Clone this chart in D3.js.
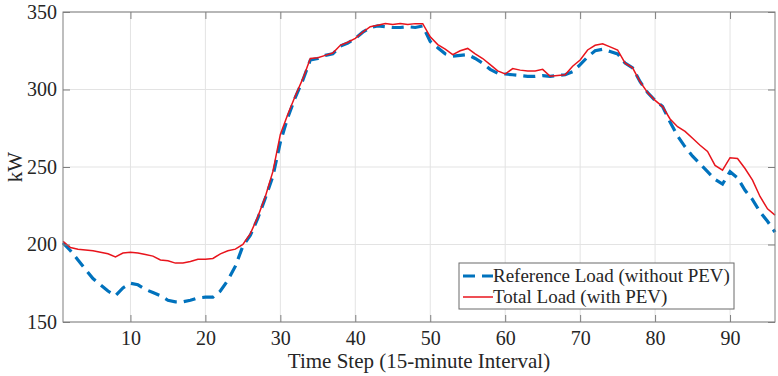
<!DOCTYPE html>
<html>
<head>
<meta charset="utf-8">
<script src="https://cdn.jsdelivr.net/npm/d3@7"></script>
<style>
  body { margin: 0; background: #fff; }
  text { font-family: "Liberation Serif", "Times New Roman", serif; fill: #262626; }
</style>
</head>
<body>
<div id="chart"></div>
<script>
// time steps 1..96
var steps = d3.range(1, 97);

var referenceLoad = [
  201, 196, 190, 184, 178, 174, 170, 167, 172, 175,
  174, 171, 169, 167, 164, 163, 163, 164, 165.5, 166,
  166, 170, 177, 186, 199, 206, 217, 230, 244, 266,
  282, 295, 306, 319, 320, 322, 323, 328, 330, 333,
  337, 340, 341, 340.5, 340, 340, 340.5, 340, 341, 331,
  327, 323, 321.5, 322, 322.5, 320, 317, 313, 310.5, 310,
  309.5, 309, 308.5, 308.5, 309, 308.5, 309, 309.5, 311.5, 316,
  321, 325, 326, 324.5, 323, 317, 314, 305, 298, 293,
  289, 279, 270, 263, 257, 252, 247, 242, 239, 247,
  243, 235, 229, 221, 215, 208
];

var totalLoad = [
  202, 198, 197, 196.5, 196, 195, 194, 192, 194.5, 195,
  194.5, 193.5, 192.5, 190, 189.5, 188, 188, 189, 190.5, 190.5,
  191, 194, 196, 197, 200, 207, 218, 231, 247, 271,
  284, 296, 307, 320, 320.5, 322, 323.5, 328.5, 330.5, 333,
  337, 340.5, 341.5, 342.5, 342, 342.5, 342, 342.5, 342.5, 334,
  329, 326, 322.5, 325, 326.5, 323, 320, 316, 312, 310,
  313.5, 312.5, 312, 312, 313, 308.5, 309, 309.5, 315, 319,
  325.5, 328.5, 329.5, 327.5, 325.5, 317, 314, 305, 298, 293,
  289, 281, 276, 273, 268.5, 264, 260, 251, 248, 256,
  255.5, 249, 241.5, 231, 223, 219
];

var xTicks = [10, 20, 30, 40, 50, 60, 70, 80, 90];
var yTicks = [150, 200, 250, 300, 350];
var seriesNames = ["Reference Load (without PEV)", "Total Load (with PEV)"];

var width = 778, height = 376;
var margin = { top: 12, right: 3, bottom: 54, left: 63 };
var w = width - margin.left - margin.right,
    h = height - margin.top - margin.bottom;

var svg = d3.select("#chart").append("svg")
    .attr("width", width)
    .attr("height", height);

var g = svg.append("g")
    .attr("transform", "translate(" + margin.left + "," + margin.top + ")");

var x = d3.scaleLinear().domain([1, 96]).range([0, w]);
var y = d3.scaleLinear().domain([150, 350]).range([h, 0]);

// grid
g.append("g").selectAll("line.gx")
  .data(xTicks).enter().append("line")
    .attr("x1", function(d) { return x(d); })
    .attr("x2", function(d) { return x(d); })
    .attr("y1", 0).attr("y2", h)
    .attr("stroke", "#e3e3e3").attr("stroke-width", 1);

g.append("g").selectAll("line.gy")
  .data(yTicks).enter().append("line")
    .attr("y1", function(d) { return y(d); })
    .attr("y2", function(d) { return y(d); })
    .attr("x1", 0).attr("x2", w)
    .attr("stroke", "#e3e3e3").attr("stroke-width", 1);

// lines
var line = function(vals) {
  return d3.line()
    .x(function(d, i) { return x(steps[i]); })
    .y(function(d) { return y(d); })(vals);
};

g.append("path")
    .attr("d", line(referenceLoad))
    .attr("fill", "none")
    .attr("stroke", "#0072BD")
    .attr("stroke-width", 3.2)
    .attr("stroke-dasharray", "12,7");

g.append("path")
    .attr("d", line(totalLoad))
    .attr("fill", "none")
    .attr("stroke", "#e8141c")
    .attr("stroke-width", 1.5);

// axes (MATLAB style box with inward ticks)
var tickLen = 7;
var axisColor = "#7f7f7f";

function styleAxis(a) {
  a.attr("font-family", null).attr("font-size", null);
  a.select(".domain").remove();
  a.selectAll(".tick line").attr("stroke", axisColor);
  a.selectAll(".tick text")
      .style("font-family", "Liberation Serif")
      .style("font-size", "20px")
      .style("fill", "#262626");
}

g.append("g")
    .attr("transform", "translate(0," + h + ")")
    .call(d3.axisBottom(x).tickValues(xTicks).tickSizeInner(-tickLen).tickSizeOuter(0).tickPadding(9))
    .call(styleAxis);

g.append("g")
    .call(d3.axisTop(x).tickValues(xTicks).tickSizeInner(-tickLen).tickSizeOuter(0).tickFormat(""))
    .call(styleAxis);

g.append("g")
    .call(d3.axisLeft(y).tickValues(yTicks).tickSizeInner(-tickLen).tickSizeOuter(0).tickPadding(6))
    .call(styleAxis);

g.append("g")
    .attr("transform", "translate(" + w + ",0)")
    .call(d3.axisRight(y).tickValues(yTicks).tickSizeInner(-tickLen).tickSizeOuter(0).tickFormat(""))
    .call(styleAxis);

g.append("rect")
    .attr("x", 0).attr("y", 0).attr("width", w).attr("height", h)
    .attr("fill", "none").attr("stroke", axisColor).attr("stroke-width", 1);

// axis labels
svg.append("text")
    .attr("x", margin.left + w / 2)
    .attr("y", 368)
    .attr("text-anchor", "middle")
    .style("font-size", "21px")
    .text("Time Step (15-minute Interval)");

svg.append("text")
    .attr("transform", "translate(22," + (margin.top + h / 2) + ") rotate(-90)")
    .attr("text-anchor", "middle")
    .style("font-size", "21px")
    .text("kW");

// legend
var legend = svg.append("g").attr("transform", "translate(459,263)");
legend.append("rect")
    .attr("width", 275).attr("height", 46)
    .attr("fill", "#fff").attr("stroke", "#6b6b6b").attr("stroke-width", 1);

var legStyles = [
  { color: "#0072BD", width: 3.2, dash: "12,7" },
  { color: "#e8141c", width: 1.5, dash: null }
];

seriesNames.forEach(function(name, i) {
  var row = legend.append("g").attr("transform", "translate(0," + (13 + i * 21) + ")");
  row.append("line")
      .attr("x1", 4).attr("x2", 34)
      .attr("y1", 0).attr("y2", 0)
      .attr("stroke", legStyles[i].color)
      .attr("stroke-width", legStyles[i].width)
      .attr("stroke-dasharray", legStyles[i].dash);
  row.append("text")
      .attr("x", 34)
      .attr("y", 6)
      .style("font-size", "19px")
      .text(name);
});
</script>
</body>
</html>
